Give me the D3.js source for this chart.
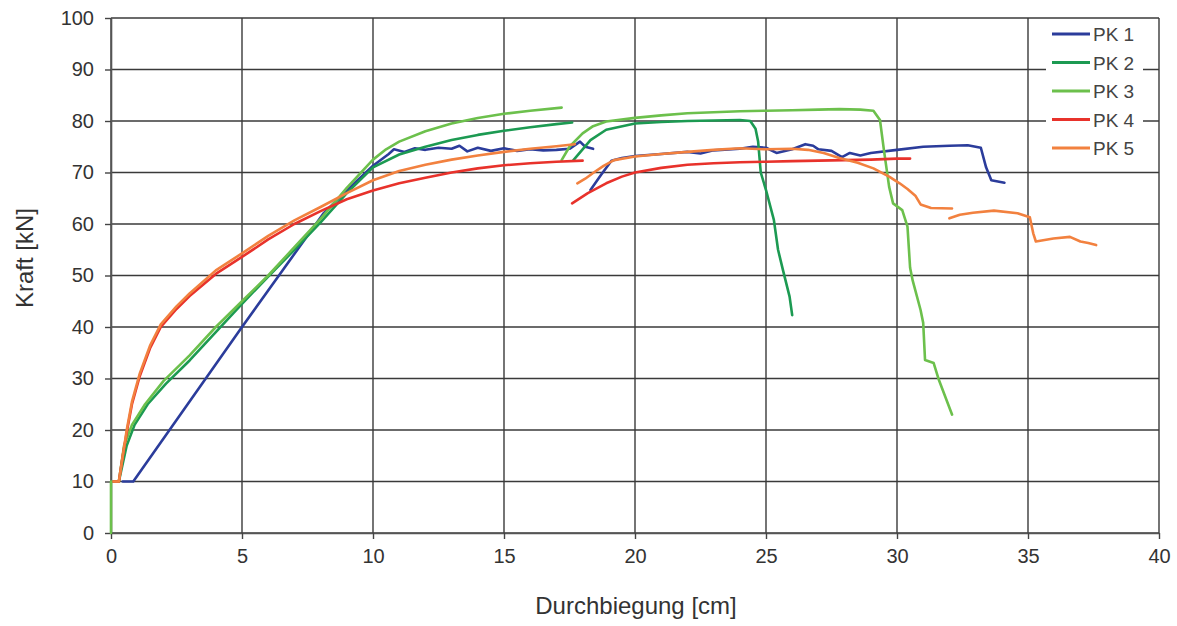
<!DOCTYPE html>
<html><head><meta charset="utf-8">
<script src="https://cdn.jsdelivr.net/npm/d3@7/dist/d3.min.js"></script>
<style>
body{margin:0;background:#fff;}
svg{display:block;font-family:"Liberation Sans",Arial,sans-serif;}
</style></head>
<body><svg id="c" width="1177" height="626"></svg>
<script>
// ---- data ----
const xTicks = [0,5,10,15,20,25,30,35,40];
const yTicks = [0,10,20,30,40,50,60,70,80,90,100];
const seriesNames = ["PK 1","PK 2","PK 3","PK 4","PK 5"];
const seriesColors = ["#2b3c9b","#1c9a52","#6cc04c","#e8322b","#f2813f"];

const pk1Seg1 = [[0.45,10],[0.85,10],[5,40],[8.1,62],[9,66.5],[10,71.3],[10.6,73.6],[10.8,74.5],[11.2,74],[11.6,74.7],[12,74.4],[12.5,74.8],[13,74.6],[13.3,75.2],[13.6,74.1],[14,74.8],[14.5,74.2],[15,74.7],[15.5,74.2],[16,74.5],[16.5,74.3],[17,74.4],[17.5,74.6],[17.9,76],[18.1,75],[18.4,74.6]];
const pk1Seg2 = [[18.3,66.6],[18.7,69.5],[19.1,72.3],[19.5,72.8],[20,73.2],[21,73.6],[22,74],[22.5,73.7],[23,74.3],[24,74.6],[24.5,75],[25,74.8],[25.4,73.8],[26,74.5],[26.5,75.5],[26.8,75.2],[27,74.5],[27.5,74.2],[27.9,73],[28.2,73.8],[28.6,73.3],[29,73.8],[30,74.4],[31,75],[32,75.2],[32.7,75.3],[33.2,74.8],[33.4,71],[33.6,68.5],[34.1,68]];

const pk2Seg1 = [[0.3,10],[0.6,17],[0.9,21],[1.4,25],[2.1,29],[3,33.5],[4,39],[5,44.5],[6,49.8],[7,55],[8,60.3],[9,66],[10,71],[11,73.5],[12,75],[13,76.3],[14,77.3],[15,78.1],[16,78.8],[17,79.4],[17.6,79.7]];
const pk2Seg2 = [[17.65,72.4],[18,74.5],[18.3,76.3],[18.9,78.3],[20,79.5],[21,79.8],[22,80],[23,80.1],[24,80.2],[24.4,80],[24.6,78.5],[24.7,76],[24.8,70],[25,66.6],[25.3,60.8],[25.46,55],[25.65,51],[25.9,45.9],[26,42.3]];

const pk3Seg1 = [[0,0],[0,10],[0.3,10],[0.5,17],[0.8,21],[1.3,25],[2,29.5],[3,34.5],[4,40],[5,45],[6,50],[7,55.5],[8,61],[9,67],[10,72.5],[10.5,74.5],[11,76],[12,78],[13,79.5],[14,80.6],[15,81.4],[16,82],[17.2,82.6]];
const pk3Seg2 = [[17.2,72.4],[17.5,75],[18,77.6],[18.4,79],[18.9,79.9],[20,80.6],[21,81.1],[22,81.5],[23,81.7],[24,81.9],[25,82],[26,82.1],[27,82.2],[27.8,82.3],[28.6,82.2],[29.1,82],[29.35,80.2],[29.5,74.4],[29.7,67.2],[29.85,64],[30.2,62.7],[30.4,59.5],[30.5,51.5],[30.6,49],[30.9,43.3],[31,40.8],[31.07,33.6],[31.4,33],[31.6,29.7],[32.1,23]];

const pk4Seg1 = [[0.1,10],[0.3,10],[0.45,15],[0.6,19.5],[0.8,25],[1.1,30.5],[1.5,36],[1.9,40],[2.5,43.5],[3,46],[4,50.3],[5,53.6],[6,57],[7,60],[8,62.5],[9,64.8],[10,66.5],[11,67.9],[12,69],[13,70],[14,70.8],[15,71.4],[16,71.8],[17,72.1],[18,72.3]];
const pk4Seg2 = [[17.6,64],[18.2,66],[18.9,67.9],[19.5,69.2],[20,70],[21,70.9],[22,71.5],[23,71.8],[24,72],[25,72.1],[26,72.2],[27,72.3],[28,72.4],[29,72.5],[30,72.7],[30.5,72.7]];

const pk5Seg1 = [[0.1,10],[0.3,10],[0.45,15],[0.6,20],[0.8,25.5],[1.1,31],[1.5,36.5],[1.9,40.5],[2.5,44],[3,46.5],[4,51],[5,54.3],[6,57.7],[7,60.7],[8,63.3],[9,66],[10,68.5],[11,70.3],[12,71.5],[13,72.5],[14,73.3],[15,74],[16,74.6],[17,75.1],[17.7,75.5]];
const pk5Seg2 = [[17.8,67.9],[18.1,68.8],[18.4,69.9],[18.8,71.3],[19.2,72.4],[20,73.1],[21,73.6],[22,74],[23,74.4],[24,74.7],[25,74.5],[26,74.6],[26.6,74.4],[27.2,73.8],[27.8,72.8],[28.5,71.9],[29.1,70.8],[29.7,69.2],[30.1,67.9],[30.4,66.8],[30.7,65.5],[30.9,63.8],[31.3,63.1],[32.1,63]];
const pk5Seg3 = [[32,61.1],[32.4,61.8],[32.9,62.2],[33.7,62.6],[34.6,62.1],[35.07,61.3],[35.2,58.2],[35.3,56.6],[35.97,57.2],[36.6,57.5],[37,56.6],[37.3,56.3],[37.6,55.9]];

const seriesSegments = [[pk1Seg1,pk1Seg2],[pk2Seg1,pk2Seg2],[pk3Seg1,pk3Seg2],[pk4Seg1,pk4Seg2],[pk5Seg1,pk5Seg2,pk5Seg3]];

// ---- chart ----
const svg = d3.select("#c");
const L=111, R=1159, T=18, B=533;
const x = d3.scaleLinear().domain([0,40]).range([L,R]);
const y = d3.scaleLinear().domain([0,100]).range([B,T]);

const grid = svg.append("g");
grid.selectAll("line.v").data(xTicks).join("line")
  .attr("x1",d=>x(d)).attr("x2",d=>x(d)).attr("y1",T).attr("y2",B)
  .attr("stroke","#3a3a3a").attr("stroke-width",1.4);
grid.selectAll("line.h").data(yTicks).join("line")
  .attr("y1",d=>y(d)).attr("y2",d=>y(d)).attr("x1",L).attr("x2",R)
  .attr("stroke","#3a3a3a").attr("stroke-width",1.4);

const xAxis = svg.append("g").attr("transform",`translate(0,${B})`)
  .call(d3.axisBottom(x).tickValues(xTicks).tickSize(6).tickSizeOuter(0).tickPadding(10));
const yAxis = svg.append("g").attr("transform",`translate(${L},0)`)
  .call(d3.axisLeft(y).tickValues(yTicks).tickSize(6).tickSizeOuter(0).tickPadding(10));
[xAxis,yAxis].forEach(a=>{
  a.selectAll("path").attr("stroke","#555").attr("stroke-width",1.6);
  a.selectAll("line").attr("stroke","#444").attr("stroke-width",1.4);
  a.selectAll("text").attr("font-size",20).attr("fill","#333")
    .attr("font-family","'Liberation Sans',Arial,sans-serif");
});
yAxis.selectAll("text").attr("dx","-1");

const line = d3.line().x(d=>x(d[0])).y(d=>y(d[1])).curve(d3.curveLinear);
const plot = svg.append("g");
seriesSegments.forEach((segs,i)=>{
  segs.forEach(seg=>{
    plot.append("path").attr("d",line(seg)).attr("fill","none")
      .attr("stroke",seriesColors[i]).attr("stroke-width",2.6)
      .attr("stroke-linejoin","round").attr("stroke-linecap","round");
  });
});

// axis titles
svg.append("text").attr("x",636).attr("y",614).attr("text-anchor","middle")
  .attr("font-size",24).attr("fill","#333").text("Durchbiegung [cm]");
svg.append("text").attr("transform","translate(33,258) rotate(-90)").attr("text-anchor","middle")
  .attr("font-size",24).attr("fill","#333").text("Kraft [kN]");

// legend
const lg = svg.append("g");
lg.append("rect").attr("x",1046).attr("y",21).attr("width",97).attr("height",143).attr("fill","#fff");
seriesNames.forEach((n,i)=>{
  const cy = 34 + i*28.5;
  lg.append("line").attr("x1",1052).attr("x2",1090).attr("y1",cy).attr("y2",cy)
    .attr("stroke",seriesColors[i]).attr("stroke-width",3);
  lg.append("text").attr("x",1093).attr("y",cy+7).attr("font-size",19).attr("fill","#444").text(n);
});
</script></body></html>
